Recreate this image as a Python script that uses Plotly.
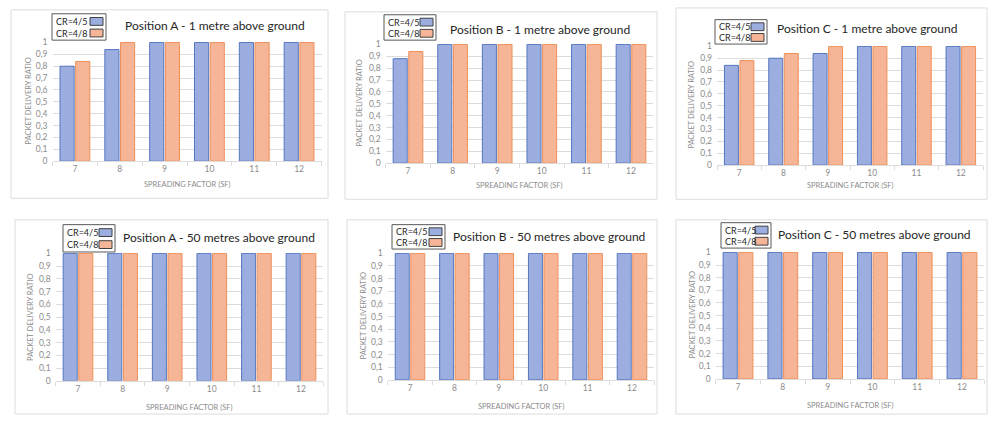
import plotly.graph_objects as go

W, H = 989, 421

# ---------------- data ----------------
sf_labels = ["7", "8", "9", "10", "11", "12"]
series_names = ["CR=4/5", "CR=4/8"]
y_tickvals = [0, 0.1, 0.2, 0.3, 0.4, 0.5, 0.6, 0.7, 0.8, 0.9, 1]
y_ticktext = ["0", "0,1", "0,2", "0,3", "0,4", "0,5", "0,6", "0,7", "0,8", "0,9", "1"]

titles = [
    "Position A - 1 metre above ground",
    "Position B - 1 metre above ground",
    "Position C - 1 metre above ground",
    "Position A - 50 metres above ground",
    "Position B - 50 metres above ground",
    "Position C - 50 metres above ground",
]

posA_1m_cr45 = [0.80, 0.94, 1, 1, 1, 1]
posA_1m_cr48 = [0.84, 1, 1, 1, 1, 1]
posB_1m_cr45 = [0.88, 1, 1, 1, 1, 1]
posB_1m_cr48 = [0.94, 1, 1, 1, 1, 1]
posC_1m_cr45 = [0.84, 0.90, 0.94, 1, 1, 1]
posC_1m_cr48 = [0.88, 0.94, 1, 1, 1, 1]
posA_50m_cr45 = [1, 1, 1, 1, 1, 1]
posA_50m_cr48 = [1, 1, 1, 1, 1, 1]
posB_50m_cr45 = [1, 1, 1, 1, 1, 1]
posB_50m_cr48 = [1, 1, 1, 1, 1, 1]
posC_50m_cr45 = [1, 1, 1, 1, 1, 1]
posC_50m_cr48 = [1, 1, 1, 1, 1, 1]

panel_data = [
    (posA_1m_cr45, posA_1m_cr48),
    (posB_1m_cr45, posB_1m_cr48),
    (posC_1m_cr45, posC_1m_cr48),
    (posA_50m_cr45, posA_50m_cr48),
    (posB_50m_cr45, posB_50m_cr48),
    (posC_50m_cr45, posC_50m_cr48),
]

# ---------------- layout (pixels) ----------------
panels = [
    dict(box=(11, 5, 328, 198), plot=(52.5, 321.5, 38, 160), leg=(52, 9, 54, 27), title=(215, 21), xt=184, yt=29),
    dict(box=(345, 7, 657, 199), plot=(385.7, 653.3, 40, 162), leg=(384, 10, 52, 26), title=(540, 25), xt=185, yt=360),
    dict(box=(676, 3, 987, 199), plot=(717, 983, 42, 164), leg=(715, 15, 52, 25), title=(867, 24), xt=185, yt=692),
    dict(box=(15, 220, 328, 419), plot=(55.7, 323.3, 254, 385), leg=(63, 225, 52, 28), title=(219, 238), xt=412, yt=31),
    dict(box=(347, 220, 657, 419), plot=(387.8, 654.2, 254, 384), leg=(392, 225, 53, 25), title=(549, 237), xt=411, yt=363),
    dict(box=(676, 220, 987, 419), plot=(715.6, 984.4, 253, 383), leg=(721, 223, 50, 26), title=(874, 235), xt=410, yt=692),
]

fill_colors = ["#9cade0", "#f6b596"]
line_colors = ["#5576c0", "#ee9058"]
grid_color = "#dcdcdc"
text_gray = "#8c8c8c"
FONT = "Lato"


def px(x):
    return x / W


def py(y):
    return 1 - y / H


fig = go.Figure()
layout = dict(
    width=W, height=H, margin=dict(l=0, r=0, t=0, b=0),
    paper_bgcolor="white", plot_bgcolor="white",
    barmode="group", bargap=0.3, bargroupgap=0.1,
    showlegend=False, font=dict(family=FONT, color=text_gray),
)
shapes = []
annotations = []

for i, (p, (v45, v48)) in enumerate(zip(panels, panel_data), start=1):
    sx = "" if i == 1 else str(i)
    for name, vals, fc, lc in zip(series_names, (v45, v48), fill_colors, line_colors):
        fig.add_trace(go.Bar(
            x=sf_labels, y=vals, name=name,
            xaxis="x" + sx, yaxis="y" + sx,
            marker=dict(color=fc, line=dict(color=lc, width=1)),
            showlegend=False,
        ))
    x0, x1, yt, yb = p["plot"]
    layout["xaxis" + sx] = dict(
        domain=[px(x0), px(x1)], anchor="y" + sx, type="category",
        showgrid=False, showline=True, linecolor=grid_color, linewidth=1,
        ticks="outside", tickson="boundaries", ticklen=4, tickcolor=grid_color,
        tickfont=dict(family=FONT, size=8.5, color=text_gray), fixedrange=True,
    )
    layout["yaxis" + sx] = dict(
        domain=[py(yb), py(yt)], anchor="x" + sx, range=[0, 1.003],
        tickvals=y_tickvals, ticktext=y_ticktext,
        showgrid=True, gridcolor=grid_color, gridwidth=1, zeroline=False,
        showline=False, ticks="", ticklabelstandoff=4,
        tickfont=dict(family=FONT, size=8.5, color=text_gray), fixedrange=True,
    )
    bx0, by0, bx1, by1 = p["box"]
    shapes.append(dict(type="rect", xref="paper", yref="paper",
                       x0=px(bx0), x1=px(bx1), y0=py(by1), y1=py(by0),
                       line=dict(color=grid_color, width=1), fillcolor="rgba(0,0,0,0)", layer="below"))
    tx, ty = p["title"]
    annotations.append(dict(xref="paper", yref="paper", x=px(tx), y=py(ty), text=titles[i - 1],
                            showarrow=False, xanchor="center", yanchor="middle",
                            font=dict(family=FONT, size=12, color="#262626")))
    annotations.append(dict(xref="paper", yref="paper", x=px((x0 + x1) / 2), y=py(p["xt"]),
                            text="SPREADING FACTOR (SF)", showarrow=False,
                            xanchor="center", yanchor="middle",
                            font=dict(family=FONT, size=7.5, color=text_gray)))
    annotations.append(dict(xref="paper", yref="paper", x=px(p["yt"]), y=py((yt + yb) / 2),
                            text="PACKET DELIVERY RATIO", showarrow=False, textangle=-90,
                            xanchor="center", yanchor="middle",
                            font=dict(family=FONT, size=7.5, color=text_gray)))
    lx, ly, lw, lh = p["leg"]
    shapes.append(dict(type="rect", xref="paper", yref="paper",
                       x0=px(lx), x1=px(lx + lw), y0=py(ly + lh), y1=py(ly),
                       line=dict(color="#595959", width=1), fillcolor="white"))
    for k, (name, fc, lc) in enumerate(zip(series_names, fill_colors, line_colors)):
        rowy = ly + lh * (0.29 + 0.44 * k)
        annotations.append(dict(xref="paper", yref="paper", x=px(lx + 2), y=py(rowy),
                                text=name, showarrow=False, xanchor="left", yanchor="middle",
                                font=dict(family=FONT, size=9, color="#262626")))
        shapes.append(dict(type="rect", xref="paper", yref="paper",
                           x0=px(lx + lw - 16), x1=px(lx + lw - 3),
                           y0=py(rowy + 4), y1=py(rowy - 4),
                           line=dict(color="#404040", width=1), fillcolor=fc))

layout["shapes"] = shapes
layout["annotations"] = annotations
fig.update_layout(**layout)
fig.write_html("out.html", config={"displayModeBar": False},
               post_script="document.body.style.margin='0';document.body.style.overflow='hidden';")
